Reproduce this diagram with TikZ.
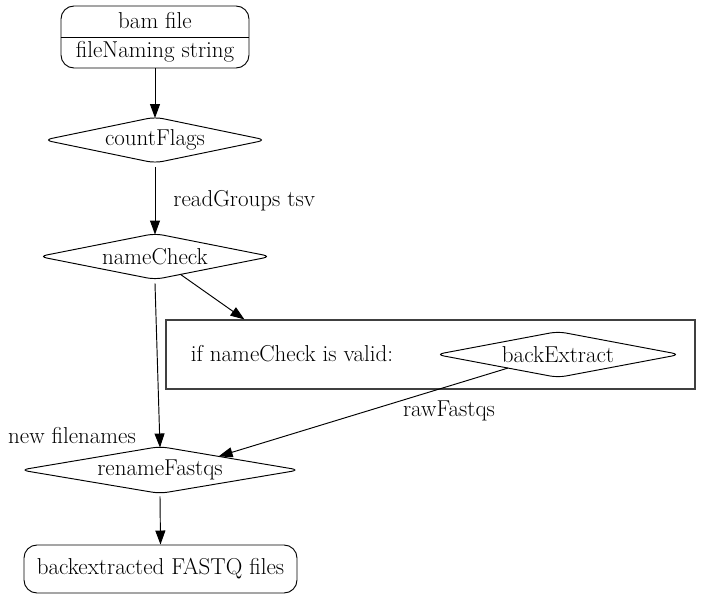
\documentclass[tikz,border=0pt]{standalone}
\usetikzlibrary{arrows.meta,calc}
\begin{document}
\begin{tikzpicture}[x=1pt,y=-1pt,
  font=\fontsize{23}{27}\selectfont,
  line width=0.95pt,
  >={Triangle[length=14pt,width=10pt]},
  rbox/.style={draw, rounded corners=13pt, inner sep=0pt},
  dnode/.style={inner sep=0pt},
  lbl/.style={inner sep=0pt},
  clbox/.style={draw=black!75, line width=1.1pt, inner sep=0pt}]
\useasboundingbox (0,0) rectangle (711,599);
% record node
\node[rbox, minimum width=188, minimum height=62] (bam) at (155,37) {};
\draw (bam.west) -- (bam.east);
\node[lbl] (bamt) at (155,21) {bam file};
\node[lbl] (bamf) at (155,52) {fileNaming string};
% diamonds
\node[dnode, minimum width=221, minimum height=45] (cf) at (155,140) {countFlags};
\node[dnode, minimum width=231, minimum height=45] (nc) at (155,256.5) {nameCheck};
\node[clbox, minimum width=529, minimum height=69] (cl) at (430.5,354.5) {};
\node[lbl] (iftxt) at (292,354) {if nameCheck is valid:};
\node[dnode, minimum width=243, minimum height=45] (be) at (558,354.5) {backExtract};
\node[dnode, minimum width=278, minimum height=46] (rf) at (160,470) {renameFastqs};
\foreach \n in {cf,nc,be,rf}
  \draw[rounded corners=8pt] (\n.west) -- (\n.north) -- (\n.east) -- (\n.south) -- cycle;
% final node
\node[rbox, minimum width=273, minimum height=48] (out) at (160.5,569) {backextracted FASTQ files};
% edges
\draw[->] (bam.south) -- ($(cf.north)+(0,1)$);
\draw[->] ($(cf.south)+(0,4)$) -- ($(nc.north)+(0,1)$) node[lbl, pos=0.5, anchor=west, xshift=18pt] (l1) {readGroups tsv};
\coordinate (ncs) at ($(nc.south)!0.22!(nc.east)$);
\coordinate (clt) at ($(cl.north west)+(79,0)$);
\draw[->] (ncs) -- (clt);
\coordinate (ncb) at ($(nc.south)+(0,4)$);
\draw[->] (ncb) -- ($(rf.north)+(0,1)$);
\node[lbl] (l2) at (72,436) {new filenames};
\coordinate (bes) at ($(be.south)!0.41!(be.west)$);
\coordinate (rfn) at ($(rf.north)!0.42!(rf.east)$);
\draw[->] (bes) -- (rfn);
\node[lbl] (l3) at (449,411) {rawFastqs};
\draw[->] ($(rf.south)+(0,3)$) -- (out.north);
\end{tikzpicture}
\end{document}
